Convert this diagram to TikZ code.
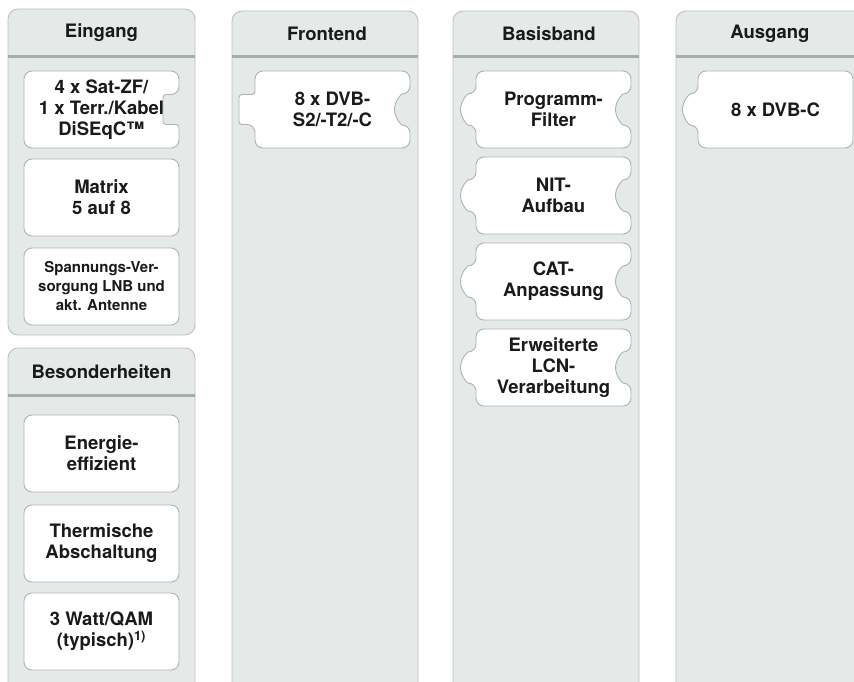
\documentclass[tikz,border=0pt]{standalone}
\usepackage{fontspec}
\setmainfont{TeX Gyre Heros}
\usetikzlibrary{positioning}
\definecolor{panelfill}{HTML}{E5E9E8}
\definecolor{panelline}{HTML}{B9C2C2}
\definecolor{headline}{HTML}{A3AEAE}
\definecolor{tileline}{HTML}{AAB4B4}
\definecolor{ink}{HTML}{1A1A1A}

% tile sides: right side runs down, left side runs up
\newcommand{\sideplain}{}
\newcommand{\rightslot}{-- (155,-23.5) [rounded corners=3pt] -- (139,-23.5) -- (139,-53.5) -- (155,-53.5) [rounded corners=8pt]}
\newcommand{\righthole}{-- (155,-23) arc[start angle=90, end angle=270, radius=15.5]}
\newcommand{\lefttab}{-- (0,-53.5) [rounded corners=3pt] -- (-16,-53.5) -- (-16,-23.5) -- (0,-23.5) [rounded corners=8pt]}
\newcommand{\leftbump}{-- (0,-54) arc[start angle=-90, end angle=-270, radius=15.5]}
% #1 name, #2 top left corner, #3 left side, #4 right side, #5 text style, #6 text
\newcommand{\tile}[6]{%
  \begin{scope}[shift={(#2)}]
    \draw[tile] (77,0) -- (155,0) #4 -- (155,-77) -- (0,-77) #3 -- (0,0) -- cycle;
    \node[#5] (#1) at (77.5,-38.5) {#6};
  \end{scope}}

\begin{document}
\begin{tikzpicture}[x=1pt, y=1pt,
    panel/.style={draw=panelline, fill=panelfill, line width=0.9pt, rounded corners=10pt},
    headrule/.style={draw=headline, line width=3pt},
    tile/.style={draw=tileline, fill=white, line width=0.9pt, rounded corners=8pt},
    every node/.style={align=center, text=ink, inner sep=0pt},
    big/.style={font=\bfseries\fontsize{18.5}{21}\selectfont},
    small/.style={font=\bfseries\fontsize{15}{19}\selectfont}
  ]
  \useasboundingbox (0,0) rectangle (854,-682);

  % panels
  \draw[panel] (8,-9) rectangle (195,-335);
  \draw[panel] (8,-348) rectangle (195,-700);
  \draw[panel] (232,-11) rectangle (418,-700);
  \draw[panel] (453,-11) rectangle (639,-700);
  \draw[panel] (676,-11) rectangle (880,-700);
  \draw[headrule] (8,-57) -- (195,-57);
  \draw[headrule] (8,-395) -- (195,-395);
  \draw[headrule] (232,-57) -- (418,-57);
  \draw[headrule] (453,-57) -- (639,-57);
  \draw[headrule] (676,-57) -- (880,-57);

  \node[big] (hEin) at (101.5,-33) {Eingang};
  \node[big] (hBes) at (101.5,-372) {Besonderheiten};
  \node[big] (hFront) at (327,-34) {Frontend};
  \node[big] (hBasis) at (549,-34) {Basisband};
  \node[big] (hAus) at (770,-34) {Ausgang};

  % Eingang
  \tile{sat}{24,-71}{\sideplain}{\rightslot}{big}{4 x Sat-ZF/\\1 x Terr./Kabel\\DiSEqC™}
  \tile{matrix}{24,-159}{\sideplain}{\sideplain}{big}{Matrix\\5 auf 8}
  \tile{lnb}{24,-248}{\sideplain}{\sideplain}{small}{Spannungs-Ver-\\sorgung LNB und\\akt. Antenne}

  % Besonderheiten
  \tile{energie}{24,-415}{\sideplain}{\sideplain}{big}{Energie-\\effizient}
  \tile{thermo}{24,-505}{\sideplain}{\sideplain}{big}{Thermische\\Abschaltung}
  \tile{watt}{24,-593}{\sideplain}{\sideplain}{big}{3 Watt/QAM\\(typisch)\textsuperscript{1)}}

  % Frontend
  \tile{dvbin}{255,-71}{\lefttab}{\righthole}{big}{8 x DVB-\\S2/-T2/-C}

  % Basisband
  \tile{filter}{476,-71}{\leftbump}{\righthole}{big}{Programm-\\Filter}
  \tile{nit}{476,-157}{\leftbump}{\righthole}{big}{NIT-\\Aufbau}
  \tile{cat}{476,-243}{\leftbump}{\righthole}{big}{CAT-\\Anpassung}
  \tile{lcn}{476,-329}{\leftbump}{\righthole}{big}{Erweiterte\\LCN-\\Verarbeitung}

  % Ausgang
  \tile{dvbout}{698,-71}{\leftbump}{\sideplain}{big}{8 x DVB-C}
\end{tikzpicture}
\end{document}
